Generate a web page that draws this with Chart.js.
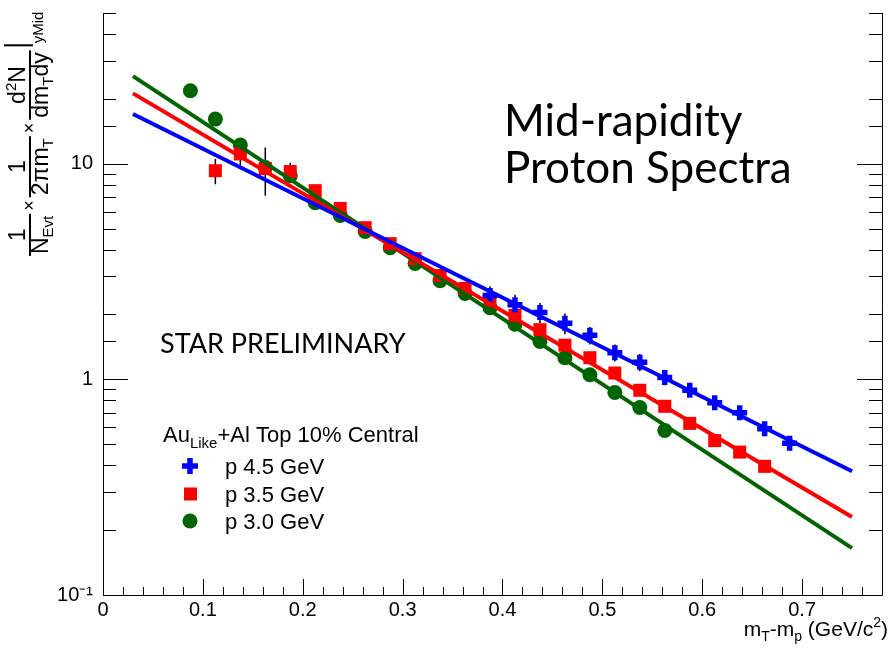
<!DOCTYPE html>
<html>
<head>
<meta charset="utf-8">
<style>
    html, body { margin: 0; padding: 0; background: #fff; }
    #wrap { width: 895px; height: 650px; }
</style>
</head>
<body>
<div id="wrap"><canvas id="myChart" width="895" height="650"></canvas></div>
<script src="https://cdn.jsdelivr.net/npm/chart.js@4.4.0/dist/chart.umd.min.js"></script>
<script>
const FONT = "'Liberation Sans', Arial, sans-serif";
const BLUE = '#0000ff';
const RED = '#ff0000';
const GREEN = '#006400';

// p 4.5 GeV
const xBlue = [0.3875, 0.4125, 0.4375, 0.4625, 0.4875, 0.5125, 0.5375, 0.5625, 0.5875, 0.6125, 0.6375, 0.6625, 0.6875];
const yBlue = [2.45, 2.22, 2.04, 1.82, 1.6, 1.33, 1.2, 1.02, 0.89, 0.78, 0.70, 0.59, 0.505];
const errBlue = [0.25, 0.25, 0.22, 0.2, 0.15, 0.12, 0.11, 0.08, 0.05, 0.04, 0.03, 0.03, 0.02];

// p 3.5 GeV
const xRed = [0.1125, 0.1375, 0.1625, 0.1875, 0.2125, 0.2375, 0.2625, 0.2875, 0.3125, 0.3375, 0.3625, 0.3875,
    0.4125, 0.4375, 0.4625, 0.4875, 0.5125, 0.5375, 0.5625, 0.5875, 0.6125, 0.6375, 0.6625];
const yRed = [9.28, 11.1, 9.5, 9.2, 7.5, 6.2, 5.05, 4.26, 3.63, 3.03, 2.64, 2.32,
    1.98, 1.7, 1.44, 1.26, 1.07, 0.89, 0.75, 0.625, 0.52, 0.46, 0.395];
const errRed = [1.25, 1.3, 2.4, 0.9, 0.45, 0.25, 0.15, 0.12, 0.1, 0.08, 0.07, 0.06,
    0.05, 0.05, 0.04, 0.04, 0.03, 0.03, 0.02, 0.02, 0.02, 0.015, 0.015];

// p 3.0 GeV
const xGreen = [0.0875, 0.1125, 0.1375, 0.1625, 0.1875, 0.2125, 0.2375, 0.2625, 0.2875, 0.3125,
    0.3375, 0.3625, 0.3875, 0.4125, 0.4375, 0.4625, 0.4875, 0.5125, 0.5375, 0.5625];
const yGreen = [21.8, 16.1, 12.2, 9.6, 8.8, 6.6, 5.75, 4.85, 4.08, 3.45,
    2.87, 2.5, 2.15, 1.8, 1.5, 1.26, 1.05, 0.87, 0.74, 0.58];
const errGreen = [0.8, 0.6, 0.45, 0.35, 0.3, 0.2, 0.15, 0.12, 0.1, 0.08,
    0.06, 0.05, 0.05, 0.04, 0.03, 0.03, 0.02, 0.02, 0.02, 0.015];

// fit curves (exponential -> straight on log axis)
const fitX = [0.03, 0.75];
const fitBlue = [17.0, 0.375];
const fitRed = [21.2, 0.23];
const fitGreen = [25.5, 0.165];

const legendLabels = ['p 4.5 GeV', 'p 3.5 GeV', 'p 3.0 GeV'];

const toPts = (xs, ys) => xs.map((x, i) => ({ x: x, y: ys[i] }));

const errorBars = [
    { xs: xGreen, ys: yGreen, err: errGreen },
    { xs: xRed, ys: yRed, err: errRed },
    { xs: xBlue, ys: yBlue, err: errBlue },
];

// text helpers: a run is a list of pieces drawn one after another
function runWidth(ctx, parts, base) {
    let w = 0;
    parts.forEach((p) => {
        ctx.font = (p.size || base) + 'px ' + FONT;
        w += ctx.measureText(p.t).width;
    });
    return w;
}
function drawRun(ctx, parts, x, y, base) {
    parts.forEach((p) => {
        ctx.font = (p.size || base) + 'px ' + FONT;
        ctx.fillText(p.t, x, y + (p.dy || 0));
        x += ctx.measureText(p.t).width;
    });
    return x;
}
function drawFrac(ctx, num, den, u, base) {
    const wn = runWidth(ctx, num, base);
    const wd = runWidth(ctx, den, base);
    const w = Math.max(wn, wd) + 4;
    ctx.fillRect(u, -1, w, 2);
    drawRun(ctx, num, u + (w - wn) / 2, -5, base);
    drawRun(ctx, den, u + (w - wd) / 2, 18, base);
    return u + w;
}
function drawTimes(ctx, u) {
    ctx.font = '18px ' + FONT;
    ctx.fillText('\u00d7', u + 3, 5);
    return u + ctx.measureText('\u00d7').width + 6;
}

const frame = {
    id: 'frame',
    beforeDatasetsDraw(chart) {
        const ctx = chart.ctx;
        const xs = chart.scales.x, ys = chart.scales.y;
        ctx.save();
        ctx.strokeStyle = '#000';
        ctx.lineWidth = 1.5;
        ctx.beginPath();
        errorBars.forEach((s) => {
            s.xs.forEach((xv, i) => {
                const px = xs.getPixelForValue(xv);
                ctx.moveTo(px, ys.getPixelForValue(s.ys[i] + s.err[i]));
                ctx.lineTo(px, ys.getPixelForValue(s.ys[i] - s.err[i]));
            });
        });
        ctx.stroke();
        ctx.restore();
    },
    afterDraw(chart) {
        const ctx = chart.ctx;
        const xs = chart.scales.x, ys = chart.scales.y;
        const { left, right, top, bottom } = chart.chartArea;
        ctx.save();

        // axes + inward ticks
        ctx.strokeStyle = '#000';
        ctx.lineWidth = 1;
        ctx.beginPath();
        ctx.moveTo(left + 0.5, top);
        ctx.lineTo(left + 0.5, bottom + 0.5);
        ctx.lineTo(right + 0.5, bottom + 0.5);
        ctx.lineTo(right + 0.5, top);
        xs.ticks.forEach((t) => {
            const px = Math.round(xs.getPixelForValue(t.value)) + 0.5;
            const major = Math.abs(t.value * 10 - Math.round(t.value * 10)) < 1e-6;
            ctx.moveTo(px, bottom);
            ctx.lineTo(px, bottom - (major ? 16 : 8));
        });
        ys.ticks.forEach((t) => {
            const py = Math.round(ys.getPixelForValue(t.value)) + 0.5;
            const lg = Math.log10(t.value);
            const len = Math.abs(lg - Math.round(lg)) < 1e-6 ? 25 : 13;
            ctx.moveTo(left, py);
            ctx.lineTo(left + len, py);
            ctx.moveTo(right, py);
            ctx.lineTo(right - len, py);
        });
        ctx.stroke();

        ctx.fillStyle = '#000';
        ctx.textBaseline = 'alphabetic';
        ctx.textAlign = 'left';

        // x axis title, right aligned
        const xTitle = [
            { t: 'm' }, { t: 'T', size: 14, dy: 5 }, { t: '-m' }, { t: 'p', size: 14, dy: 5 },
            { t: ' (GeV/c' }, { t: '2', size: 14, dy: -9 }, { t: ')' },
        ];
        drawRun(ctx, xTitle, 888 - runWidth(ctx, xTitle, 21), 636, 21);

        // y axis title, rotated
        ctx.save();
        ctx.translate(30, 256);
        ctx.rotate(-Math.PI / 2);
        let u = 0;
        u = drawFrac(ctx, [{ t: '1' }], [{ t: 'N' }, { t: 'Evt', size: 15, dy: 5 }], u, 23);
        u = drawTimes(ctx, u);
        u = drawFrac(ctx, [{ t: '1' }], [{ t: '2\u03c0m' }, { t: 'T', size: 15, dy: 5 }], u, 23);
        u = drawTimes(ctx, u);
        u = drawFrac(ctx, [{ t: 'd' }, { t: '2', size: 15, dy: -9 }, { t: 'N' }],
            [{ t: 'dm' }, { t: 'T', size: 15, dy: 5 }, { t: 'dy' }], u, 23);
        ctx.fillRect(u + 4, -26, 2, 29);
        drawRun(ctx, [{ t: 'yMid' }], u + 7, 13, 15);
        ctx.restore();

        // legend
        drawRun(ctx, [{ t: 'Au' }, { t: 'Like', size: 15, dy: 6 }, { t: '+Al Top 10% Central' }], 163, 442, 22);
        const ly = [466, 494, 521];
        // cross
        ctx.strokeStyle = BLUE;
        ctx.lineWidth = 5.5;
        ctx.beginPath();
        ctx.moveTo(182, ly[0]); ctx.lineTo(198, ly[0]);
        ctx.moveTo(190, ly[0] - 8); ctx.lineTo(190, ly[0] + 8);
        ctx.stroke();
        // square
        ctx.fillStyle = RED;
        ctx.fillRect(184, ly[1] - 6.5, 13, 13);
        // circle
        ctx.fillStyle = GREEN;
        ctx.beginPath();
        ctx.arc(190, ly[2], 7.5, 0, Math.PI * 2);
        ctx.fill();
        ctx.fillStyle = '#000';
        ctx.font = '22px ' + FONT;
        legendLabels.forEach((l, i) => ctx.fillText(l, 225, ly[i] + 8));

        // annotations
        ctx.font = '44px Lato';
        ctx.fillText('Mid-rapidity', 504, 136);
        ctx.fillText('Proton Spectra', 504, 183);
        ctx.font = '27px Lato';
        ctx.fillText('STAR PRELIMINARY', 160, 353);

        ctx.restore();
    },
};

const ctx = document.getElementById('myChart');

new Chart(ctx, {
    type: 'scatter',
    data: {
        datasets: [
            { label: 'fit 4.5', data: toPts(fitX, fitBlue), showLine: true, borderColor: BLUE, borderWidth: 4, pointRadius: 0, order: 0 },
            { label: 'fit 3.5', data: toPts(fitX, fitRed), showLine: true, borderColor: RED, borderWidth: 4, pointRadius: 0, order: 1 },
            { label: 'fit 3.0', data: toPts(fitX, fitGreen), showLine: true, borderColor: GREEN, borderWidth: 4, pointRadius: 0, order: 2 },
            {
                label: legendLabels[0], data: toPts(xBlue, yBlue), pointStyle: 'cross', pointRadius: 7.5,
                pointBorderWidth: 5.5, pointBorderColor: BLUE, pointBackgroundColor: BLUE, order: 3,
            },
            {
                label: legendLabels[1], data: toPts(xRed, yRed), pointStyle: 'rect', pointRadius: 9.2,
                pointBorderWidth: 0, pointBackgroundColor: RED, pointBorderColor: RED, order: 4,
            },
            {
                label: legendLabels[2], data: toPts(xGreen, yGreen), pointStyle: 'circle', pointRadius: 7.5,
                pointBorderWidth: 0, pointBackgroundColor: GREEN, pointBorderColor: GREEN, order: 5,
            },
        ],
    },
    options: {
        responsive: false,
        animation: false,
        devicePixelRatio: 1,
        layout: { padding: { left: 0, right: 10, top: 12, bottom: 0 } },
        scales: {
            x: {
                type: 'linear',
                min: 0,
                max: 0.78,
                grid: { display: false, drawTicks: false },
                border: { display: false },
                afterFit: (s) => {
                    s.height = 55;
                    s.paddingLeft = 0;
                    s.paddingRight = 0;
                },
                ticks: {
                    stepSize: 0.02,
                    autoSkip: false,
                    maxRotation: 0,
                    padding: 3,
                    color: '#000',
                    font: { family: FONT, size: 20 },
                    callback: (v) => {
                        if (Math.abs(v * 10 - Math.round(v * 10)) > 1e-6) return '';
                        return v === 0 ? '0' : (Math.round(v * 10) / 10).toFixed(1);
                    },
                },
            },
            y: {
                type: 'logarithmic',
                min: 0.1,
                max: 50,
                grid: { display: false, drawTicks: false },
                border: { display: false },
                afterFit: (s) => {
                    s.width = 103;
                    s.paddingTop = 0;
                    s.paddingBottom = 0;
                },
                ticks: {
                    autoSkip: false,
                    padding: 10,
                    color: '#000',
                    font: { family: FONT, size: 20 },
                    callback: (v) => {
                        if (Math.abs(v - 0.1) < 1e-9) return '10\u207b\u00b9';
                        if (Math.abs(v - 1) < 1e-9) return '1';
                        if (Math.abs(v - 10) < 1e-9) return '10';
                        return '';
                    },
                },
            },
        },
        plugins: {
            legend: { display: false },
            tooltip: { enabled: false },
        },
    },
    plugins: [frame],
});
</script>
</body>
</html>
